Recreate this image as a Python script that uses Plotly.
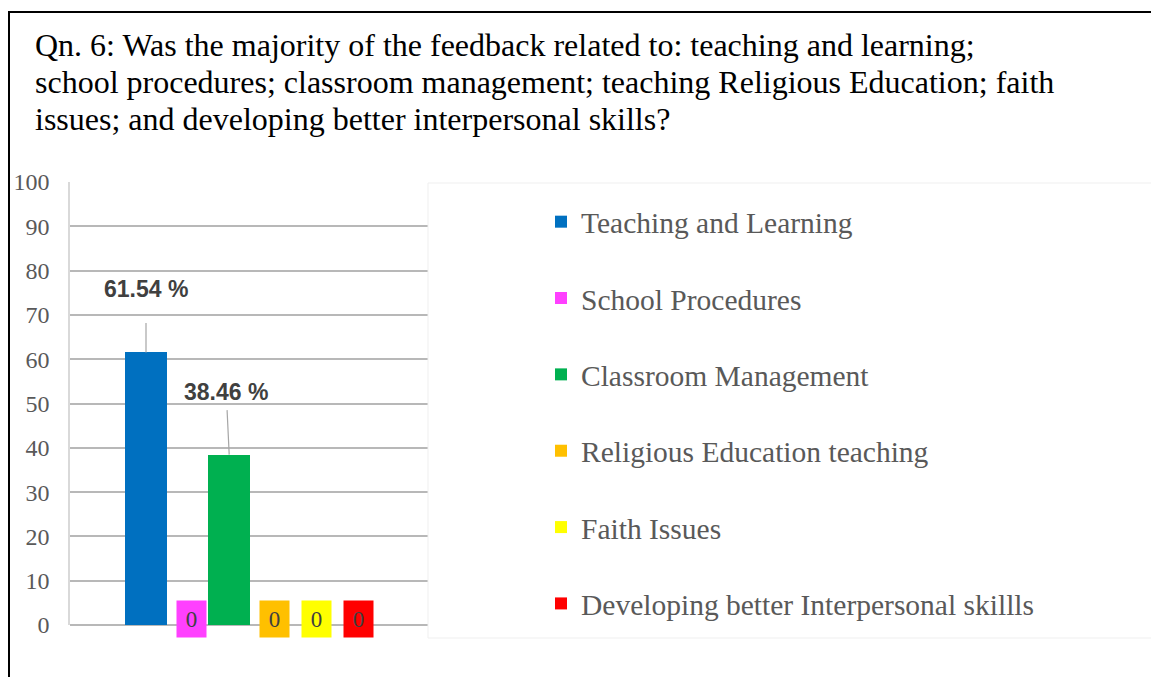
import plotly.graph_objects as go

series = ["Teaching and Learning", "School Procedures", "Classroom Management",
          "Religious Education teaching", "Faith Issues",
          "Developing better Interpersonal skillls"]
values = [61.54, 0, 38.46, 0, 0, 0]
colors = ["#0070C0", "#FF40FF", "#00B050", "#FFC000", "#FFFF00", "#FF0000"]
yticks = [0, 10, 20, 30, 40, 50, 60, 70, 80, 90, 100]
title_lines = ["Qn. 6: Was the majority of the feedback related to: teaching and learning;",
               "school procedures; classroom management; teaching Religious Education; faith",
               "issues; and developing better interpersonal skills?"]

OFF = 8  # page body margin
W, H = 1159 - OFF, 677 - OFF
ML, MR, MT, MB = 70 - OFF, 0, 182 - OFF, H - (625 - OFF)
PW, PH = W - ML - MR, H - MT - MB


def px(x):  # screen x -> paper
    return (x - OFF - ML) / PW


def py(y):  # screen y -> paper
    return (H - MB - (y - OFF)) / PH


fig = go.Figure()
for name, v, c in zip(series, values, colors):
    fig.add_trace(go.Bar(x=[name], y=[v], name=name, marker_color=c,
                         marker_line_width=0, width=[1.0],
                         legendgroup=name, hoverinfo="skip"))

# data labels
for name, v, c in zip(series, values, colors):
    if v > 0:
        big = v > 50
        fig.add_annotation(x=name, y=v, text=f"<b>{v:.2f} %</b>", showarrow=True,
                           arrowhead=0, arrowwidth=1.2, arrowcolor="#A6A6A6",
                           ax=0 if big else -3, ay=-63,
                           startstandoff=19 if big else 4,
                           font=dict(family="Liberation Sans", size=23, color="#404040"))
    else:
        fig.add_annotation(x=name, y=v, text=f"{v:g}", showarrow=False,
                           yanchor="middle", yshift=6, xshift=4,
                           width=27, height=34, bgcolor=c, borderpad=1,
                           font=dict(family="Liberation Serif", size=23, color="#404040"))

# title lines
for i, line in enumerate(title_lines):
    fig.add_annotation(xref="paper", yref="paper", x=px(33), y=py(25 + 37 * i),
                       xanchor="left", yanchor="top", showarrow=False, text=line,
                       font=dict(family="Liberation Serif", size=32, color="black"))

# legend background box
fig.add_shape(type="rect", xref="paper", yref="paper",
              x0=px(428), x1=px(1152), y0=py(638), y1=py(183),
              fillcolor="white", line=dict(color="#EFEFEF", width=1), layer="above")

# outer frame lines
fig.add_shape(type="line", xref="paper", yref="paper", x0=px(8), x1=px(1159),
              y0=py(12), y1=py(12), line=dict(color="black", width=2))
fig.add_shape(type="line", xref="paper", yref="paper", x0=px(9), x1=px(9),
              y0=py(12), y1=py(677), line=dict(color="black", width=2))

slot = 41.6
fig.update_xaxes(categoryorder="array", categoryarray=series,
                 range=[-(146 - 70) / slot, (1159 - 146) / slot],
                 showticklabels=False, showgrid=False, zeroline=False,
                 showline=False, ticks="")
fig.update_yaxes(range=[0, 100], tickvals=yticks, showgrid=True,
                 gridcolor="#B8B8B8", gridwidth=1.5, zeroline=True,
                 zerolinecolor="#B8B8B8", zerolinewidth=1.5,
                 showline=True, linecolor="#D9D9D9", linewidth=1.5,
                 ticks="", ticklabelstandoff=14,
                 tickfont=dict(family="Liberation Serif", size=24, color="#595959"))

fig.update_layout(
    width=W, height=H,
    margin=dict(l=ML, r=MR, t=MT, b=MB, pad=0),
    paper_bgcolor="white", plot_bgcolor="white",
    barmode="overlay", bargap=0,
    legend=dict(x=px(541), xanchor="left", y=py(196), yanchor="top",
                bgcolor="rgba(0,0,0,0)", borderwidth=0,
                tracegroupgap=35, traceorder="grouped",
                font=dict(family="Liberation Serif", size=29.5, color="#595959")),
    showlegend=True,
)

fig.write_html("out.html")
